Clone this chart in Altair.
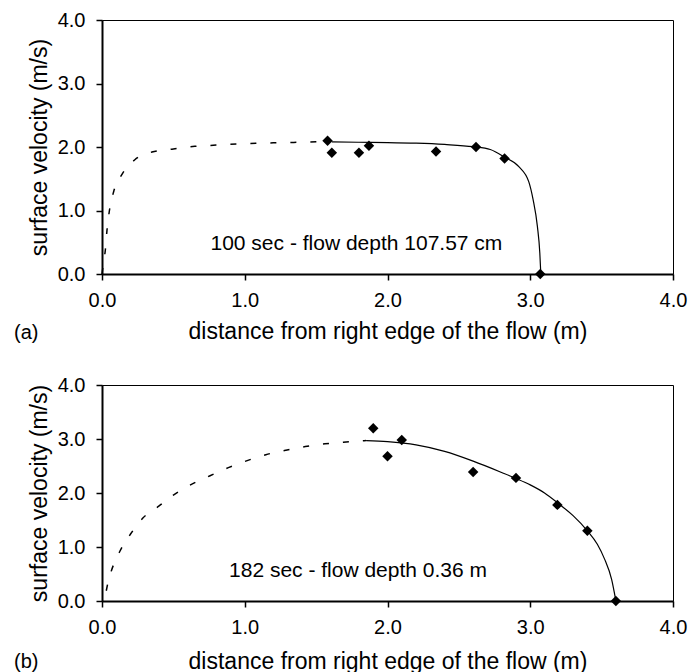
import altair as alt
import pandas as pd

FONT = "Liberation Sans"

# ---------- panel (a): 100 sec ----------
a_pts_x = [1.58, 1.61, 1.80, 1.87, 2.34, 2.62, 2.82, 3.07]
a_pts_y = [2.10, 1.91, 1.91, 2.02, 1.93, 2.00, 1.82, 0.00]
a_fit_x = [1.61, 1.80, 2.00, 2.20, 2.40, 2.60, 2.72, 2.82, 2.92, 2.99, 3.02, 3.05, 3.067, 3.074]
a_fit_y = [2.08, 2.075, 2.07, 2.06, 2.04, 2.005, 1.96, 1.84, 1.69, 1.45, 1.17, 0.75, 0.33, 0.00]
a_ext_x = [0.0, 0.012, 0.024, 0.035, 0.052, 0.082, 0.14, 0.23, 0.35, 0.50, 0.65, 0.80, 0.95, 1.10, 1.30, 1.45, 1.58]
a_ext_y = [0.0, 0.20, 0.39, 0.69, 1.00, 1.30, 1.57, 1.80, 1.92, 1.97, 2.01, 2.03, 2.05, 2.06, 2.07, 2.08, 2.09]
a_note = "100 sec - flow depth 107.57 cm"
a_note_x, a_note_y = 0.76, 0.38
a_tag = "(a)"

# ---------- panel (b): 182 sec ----------
b_pts_x = [1.90, 2.00, 2.10, 2.60, 2.90, 3.19, 3.40, 3.60]
b_pts_y = [3.20, 2.68, 2.98, 2.39, 2.28, 1.78, 1.30, 0.00]
b_fit_x = [1.85, 2.00, 2.20, 2.40, 2.60, 2.80, 2.90, 3.00, 3.10, 3.20, 3.30, 3.40, 3.47, 3.52, 3.57, 3.60]
b_fit_y = [2.97, 2.95, 2.89, 2.77, 2.59, 2.38, 2.27, 2.15, 2.00, 1.80, 1.58, 1.30, 1.05, 0.78, 0.40, 0.00]
b_ext_x = [0.03, 0.045, 0.067, 0.127, 0.20, 0.288, 0.40, 0.50, 0.633, 0.757, 0.885, 1.017, 1.148, 1.286, 1.424, 1.562, 1.69, 1.85]
b_ext_y = [0.19, 0.38, 0.57, 0.93, 1.24, 1.54, 1.76, 1.96, 2.17, 2.32, 2.47, 2.60, 2.71, 2.79, 2.86, 2.91, 2.94, 2.97]
b_note = "182 sec - flow depth 0.36 m"
b_note_x, b_note_y = 0.89, 0.45
b_tag = "(b)"

x_ticks = [0, 1, 2, 3, 4]
y_ticks = [0, 1, 2, 3, 4]
x_title = "distance from right edge of the flow (m)"
y_title = "surface velocity (m/s)"

W = 571


def panel(pts_x, pts_y, fit_x, fit_y, ext_x, ext_y, note, nx, ny, tag, h, tpad, tag_dy):
    xs = alt.Scale(domain=[0, 4], nice=False, zero=False)
    ys = alt.Scale(domain=[0, 4], nice=False, zero=False)
    xax = alt.Axis(values=x_ticks, format=".1f", title=x_title, titlePadding=tpad)
    yax = alt.Axis(values=y_ticks, format=".1f", title=y_title)

    pts = pd.DataFrame({"x": pts_x, "y": pts_y})
    fit = pd.DataFrame({"x": fit_x, "y": fit_y})
    ext = pd.DataFrame({"x": ext_x, "y": ext_y})
    nt = pd.DataFrame({"x": [nx], "y": [ny], "t": [note]})
    tg = pd.DataFrame({"t": [tag]})

    X = alt.X("x:Q", scale=xs, axis=xax)
    Y = alt.Y("y:Q", scale=ys, axis=yax)

    ext_l = alt.Chart(ext).mark_line(
        color="black", strokeWidth=1.5, strokeDash=[6, 14], interpolate="monotone"
    ).encode(x=X, y=Y)
    fit_l = alt.Chart(fit).mark_line(
        color="black", strokeWidth=1.2, interpolate="monotone"
    ).encode(x=X, y=Y)
    pts_l = alt.Chart(pts).mark_point(
        shape="diamond", filled=True, color="black", size=110, opacity=1
    ).encode(x=X, y=Y)
    note_l = alt.Chart(nt).mark_text(
        align="left", baseline="alphabetic", font=FONT, fontSize=21, color="black"
    ).encode(x=X, y=Y, text="t:N")
    tag_l = alt.Chart(tg).mark_text(
        align="left", baseline="middle", font=FONT, fontSize=20, color="black"
    ).encode(x=alt.value(-88), y=alt.value(h + tag_dy), text="t:N")

    return alt.layer(ext_l, fit_l, pts_l, note_l, tag_l).properties(width=W, height=h)


top = panel(a_pts_x, a_pts_y, a_fit_x, a_fit_y, a_ext_x, a_ext_y,
            a_note, a_note_x, a_note_y, a_tag, 254, 10, 59)
bot = panel(b_pts_x, b_pts_y, b_fit_x, b_fit_y, b_ext_x, b_ext_y,
            b_note, b_note_x, b_note_y, b_tag, 216, 13, 61)

chart = alt.vconcat(top, bot, spacing=30).properties(
    padding={"left": 5, "top": 1, "right": 0, "bottom": 0}
).configure_view(
    stroke="black", strokeWidth=1
).configure_axis(
    grid=False,
    domainColor="black", domainWidth=2,
    tickColor="black", tickWidth=1.5, tickSize=6,
    labelFont=FONT, labelFontSize=20, labelColor="black",
    titleFont=FONT, titleFontSize=23, titleFontWeight="normal", titleColor="black",
).configure_axisX(
    labelPadding=10, labelFlush=False
).configure_axisY(
    labelPadding=11, titlePadding=6
)

chart.save("out.html", embed_options={"renderer": "svg", "actions": False})
